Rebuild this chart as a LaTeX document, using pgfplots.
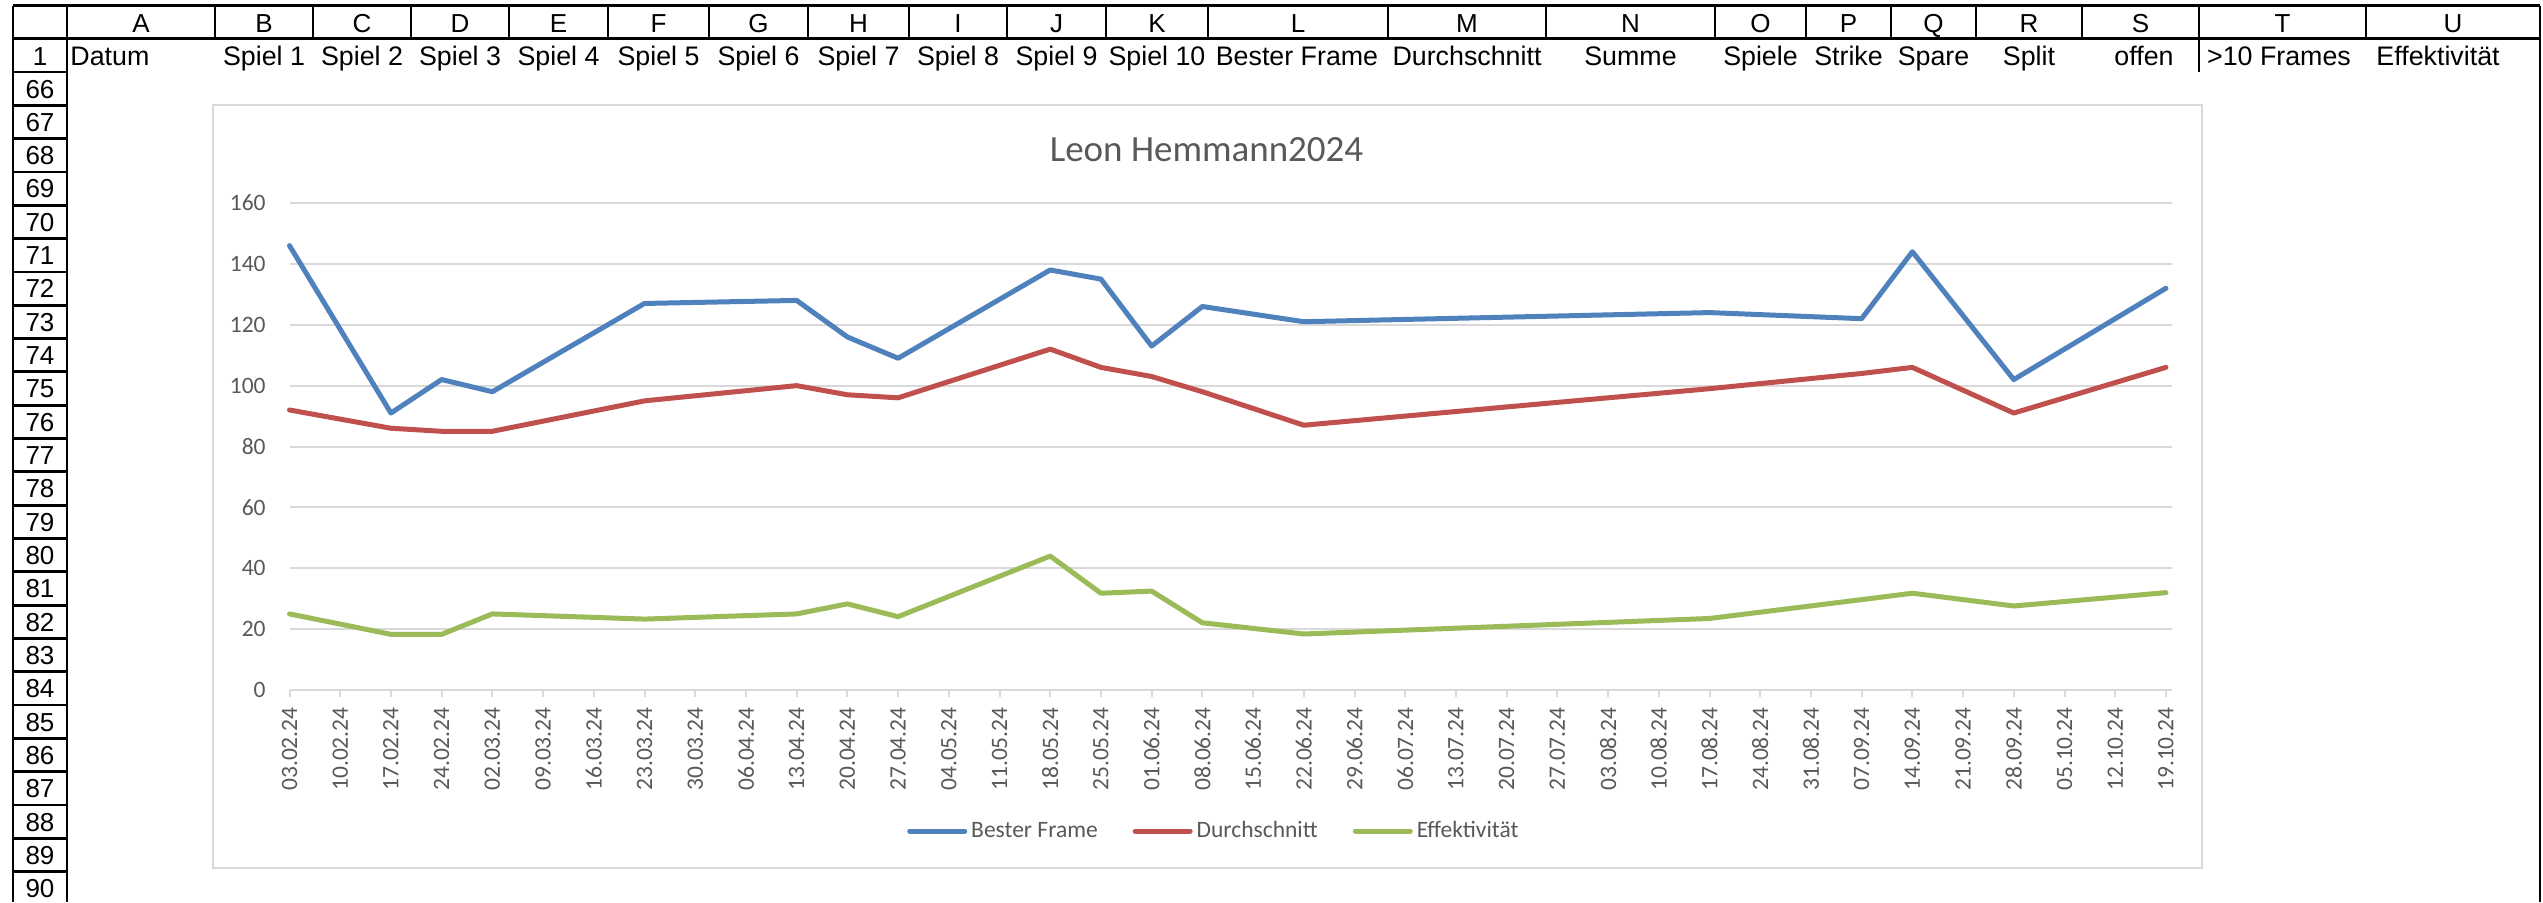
\documentclass[border=0pt]{standalone}
\usepackage{pgfplots}
\pgfplotsset{compat=1.18}
\usepackage{fontspec}
\setmainfont{Liberation Sans}
\newfontfamily\carlito{Carlito}
\definecolor{xlblue}{HTML}{4F81BD}
\definecolor{xlred}{HTML}{C0504D}
\definecolor{xlgreen}{HTML}{9BBB59}
\definecolor{gridgray}{HTML}{D9D9D9}
\definecolor{txtgray}{HTML}{595959}
\begin{document}
\begin{tikzpicture}
\begin{scope}[x=0.5pt,y=-0.5pt]
\useasboundingbox (0,0) rectangle (2543,902);
\fill[white] (0,0) rectangle (2543,902);
\draw[gridgray, line width=1pt] (212.5,104.5) rectangle (2201.5,867.5);
\begin{scope}[line width=1.4pt, black]
\draw (13,5.5) -- (2540,5.5);
\draw (13,38.5) -- (2540,38.5);
\foreach \x in {215,313,411,509,608,709,808,909,1007,1106,1208,1388,1546,1715,1806,1891,1976,2082,2199,2366}
  \draw (\x,5.5) -- (\x,38.5);
\draw (13,5.5) -- (13,902);
\draw (67,5.5) -- (67,902);
\draw (2540,5.5) -- (2540,902);
\draw (2199,38.5) -- (2199,72);
\foreach \k in {0,...,24} \draw (13,72+33.32*\k) -- (67,72+33.32*\k);
\end{scope}
\begin{scope}[font=\fontsize{13}{14}\selectfont, inner sep=0pt, anchor=base]
\foreach \c/\t in {141/A,264/B,362/C,460/D,558.5/E,658.5/F,758.5/G,858.5/H,958/I,1056.5/J,1157/K,1298/L,1467/M,1630.5/N,1760.5/O,1848.5/P,1933.5/Q,2029/R,2140.5/S,2282.5/T,2453/U}
  \node[anchor=base] at (\c,32.5) {\t};
\node[anchor=base] at (40,65) {1};
\foreach \k/\r in {0/66,1/67,2/68,3/69,4/70,5/71,6/72,7/73,8/74,9/75,10/76,11/77,12/78,13/79,14/80,15/81,16/82,17/83,18/84,19/85,20/86,21/87,22/88,23/89,24/90}
  \node[anchor=base] at (40,72+33.32*\k+26) {\r};
\end{scope}
\begin{scope}[font=\fontsize{13.4}{15}\selectfont, inner sep=0pt]
\node[anchor=base west] at (70,65) {Datum};
\foreach \c/\t in {264/Spiel 1,362/Spiel 2,460/Spiel 3,558.5/Spiel 4,658.5/Spiel 5,758.5/Spiel 6,858.5/Spiel 7,958/Spiel 8,1056.5/Spiel 9,1157/Spiel 10,1297/Bester Frame,1467/Durchschnitt,1630.5/Summe,1760.5/Spiele,1848.5/Strike,1933.5/Spare,2029/Split,2144/offen,2279/>10 Frames,2438/Effektivität}
  \node[anchor=base] at (\c,65) {\t};
\end{scope}
\node[font=\carlito\fontsize{18.5}{20}\selectfont, text=txtgray, anchor=base, inner sep=0pt] at (1206.5,161) {Leon Hemmann2024};
\end{scope}
\begin{axis}[
  at={(144.75pt,-345pt)}, anchor=south west,
  scale only axis, width=941.25pt, height=243.5pt,
  xmin=0, xmax=37.12, ymin=0, ymax=160,
  axis line style={draw=none},
  ymajorgrids, grid style={gridgray, line width=1pt},
  ytick={0,20,...,160},
  xtick={0,...,37},
  xticklabels={03.02.24,10.02.24,17.02.24,24.02.24,02.03.24,09.03.24,16.03.24,23.03.24,30.03.24,06.04.24,13.04.24,20.04.24,27.04.24,04.05.24,11.05.24,18.05.24,25.05.24,01.06.24,08.06.24,15.06.24,22.06.24,29.06.24,06.07.24,13.07.24,20.07.24,27.07.24,03.08.24,10.08.24,17.08.24,24.08.24,31.08.24,07.09.24,14.09.24,21.09.24,28.09.24,05.10.24,12.10.24,19.10.24},
  tick align=outside,
  xtick pos=lower, ytick pos=left,
  major tick length=3.5pt,
  xtick style={gridgray, line width=1pt},
  ytick style={draw=none},
  tick label style={font=\carlito\fontsize{11.75}{12}\selectfont, text=txtgray},
  xticklabel style={rotate=90, anchor=east, inner sep=0pt},
  yticklabel style={anchor=east, inner sep=0pt},
  xticklabel shift=5pt,
  yticklabel shift=8.25pt,
  /pgf/number format/assume math mode=true,
  clip=false,
  legend columns=3,
  legend style={at={(axis description cs:0.4905,-0.2895)}, anchor=center, draw=none, fill=none,
    font=\carlito\fontsize{11.75}{12}\selectfont, text=txtgray, inner sep=0pt,
    nodes={inner sep=0pt},
    /tikz/every odd column/.style={column sep=2pt},
    /tikz/every even column/.style={column sep=17.5pt}},
  legend image code/.code={\draw[#1, line width=2.5pt, line cap=round] (0pt,0pt) -- (27.5pt,0pt);},
  every axis plot/.append style={line width=2.5pt, line join=round, line cap=round, mark=none},
]
\addplot[xlblue] table {
x y
0 146
2 91
3 102
4 98
7 127
10 128
11 116
12 109
15 138
16 135
17 113
18 126
20 121
28 124
31 122
32 144
34 102
37 132
};
\addlegendentry{Bester Frame}
\addplot[xlred] table {
x y
0 92
2 86
3 85
4 85
7 95
10 100
11 97
12 96
15 112
16 106
17 103
18 98
20 87
28 99
31 104
32 106
34 91
37 106
};
\addlegendentry{Durchschnitt}
\addplot[xlgreen] table {
x y
0 25
2 18.3
3 18.3
4 25
7 23.3
10 25
11 28.3
12 24.1
15 44
16 31.8
17 32.5
18 22.1
20 18.4
28 23.5
31 29.7
32 31.8
34 27.6
37 32
};
\addlegendentry{Effektivität}
\end{axis}
\end{tikzpicture}
\end{document}
